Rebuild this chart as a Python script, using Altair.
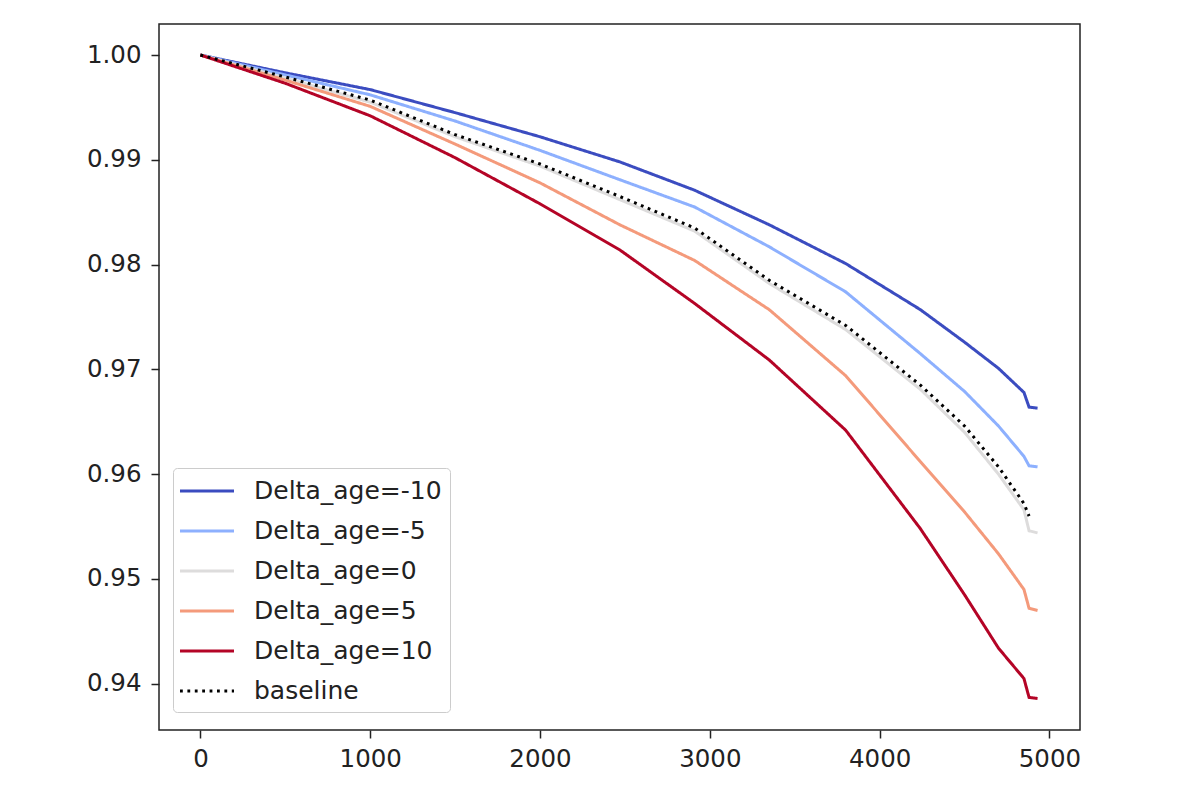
import altair as alt
import pandas as pd

t = [0, 500, 1000, 1500, 2000, 2470, 2910, 3350, 3800, 4240, 4500, 4700, 4850, 4880, 4930]
s_m10 = [1.0, 0.9983, 0.9967, 0.9945, 0.9922, 0.9898, 0.9871, 0.9838, 0.9801, 0.9757, 0.9726, 0.9701, 0.9678, 0.9664, 0.9663]
s_m5 = [1.0, 0.9981, 0.9962, 0.9937, 0.9909, 0.9881, 0.9855, 0.9817, 0.9774, 0.9715, 0.9679, 0.9646, 0.9617, 0.9608, 0.9607]
s_0 = [1.0, 0.9978, 0.9955, 0.9922, 0.9894, 0.9862, 0.9832, 0.9782, 0.9738, 0.9681, 0.9640, 0.9600, 0.9566, 0.9546, 0.9544]
s_5 = [1.0, 0.9976, 0.9951, 0.9915, 0.9878, 0.9838, 0.9804, 0.9757, 0.9694, 0.9612, 0.9564, 0.9524, 0.9490, 0.9472, 0.9470]
s_10 = [1.0, 0.9973, 0.9942, 0.9902, 0.9858, 0.9814, 0.9763, 0.9709, 0.9642, 0.9548, 0.9485, 0.9434, 0.9405, 0.9387, 0.9386]
s_base = [1.0, 0.9979, 0.9957, 0.9924, 0.9896, 0.9865, 0.9835, 0.9785, 0.9742, 0.9685, 0.9646, 0.9607, 0.9572, 0.9560, None]

series_names = ["Delta_age=-10", "Delta_age=-5", "Delta_age=0", "Delta_age=5", "Delta_age=10", "baseline"]
series_vals = [s_m10, s_m5, s_0, s_5, s_10, s_base]
colors = ["#3b4cc0", "#8db0fe", "#dddcdc", "#f49a7b", "#b40426", "#000000"]
dashes = [[1, 0], [1, 0], [1, 0], [1, 0], [1, 0], [2.8, 4.6]]

rows = []
for name, vals in zip(series_names, series_vals):
    for tt, v in zip(t, vals):
        if v is not None:
            rows.append({"t": tt, "s": v, "series": name})
df = pd.DataFrame(rows)

FONT = "DejaVu Sans"

legend_kw = dict(title=None, orient="none", legendX=14, legendY=444,
                 symbolType="M-2,0H2", symbolSize=729, symbolOffset=11,
                 symbolStrokeWidth=3, labelFontSize=25,
                 labelOffset=32, rowPadding=12, padding=8,
                 fillColor="white", strokeColor="#cccccc",
                 cornerRadius=4, labelLimit=400)

chart = alt.Chart(df).mark_line(strokeWidth=3, interpolate="linear").encode(
    x=alt.X("t:Q",
            scale=alt.Scale(domain=[-244, 5180], nice=False, zero=False),
            axis=alt.Axis(values=[0, 1000, 2000, 3000, 4000, 5000], title=None,
                          labelFontSize=24.5, labelPadding=9, tickSize=8,
                          format="d", grid=False, domain=False)),
    y=alt.Y("s:Q",
            scale=alt.Scale(domain=[0.93559, 1.00296], nice=False, zero=False),
            axis=alt.Axis(values=[0.94, 0.95, 0.96, 0.97, 0.98, 0.99, 1.00], title=None,
                          labelFontSize=24.5, labelPadding=10, tickSize=8,
                          format=".2f", grid=False, domain=False)),
    color=alt.Color("series:N",
                    scale=alt.Scale(domain=series_names, range=colors),
                    legend=alt.Legend(**legend_kw)),
    strokeDash=alt.StrokeDash("series:N",
                              scale=alt.Scale(domain=series_names, range=dashes),
                              legend=alt.Legend(**legend_kw)),
).properties(
    width=921, height=706,
    autosize=alt.AutoSizeParams(type="none"),
    padding={"left": 151, "top": 16, "right": 100, "bottom": 60},
).configure_view(
    stroke="#222222", strokeWidth=1.5
).configure_axis(
    labelFont=FONT, labelColor="#222222", tickColor="#222222", tickWidth=1.5
).configure_legend(
    labelFont=FONT, labelColor="#222222"
)

chart.save("out.html", embed_options={"renderer": "svg", "actions": False})
